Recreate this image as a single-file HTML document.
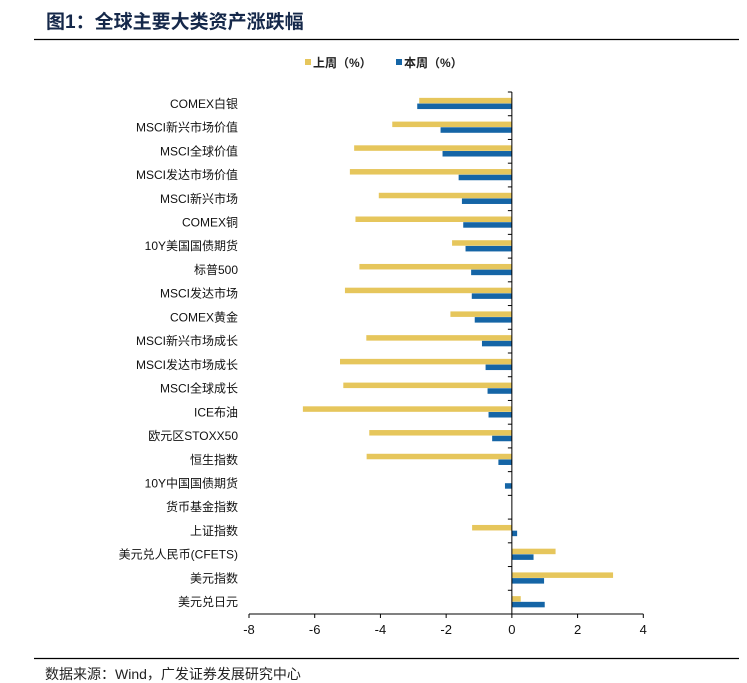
<!DOCTYPE html>
<html><head><meta charset="utf-8"><style>
body{margin:0;background:#fff;width:747px;height:683px;overflow:hidden;font-family:"Liberation Sans","Noto Sans CJK SC",sans-serif;}
svg{display:block}
</style></head><body>
<svg id="chart" width="747" height="683" xmlns="http://www.w3.org/2000/svg" font-family="Liberation Sans, Noto Sans CJK SC, sans-serif">
<text x="46" y="28" font-size="19" font-weight="bold" fill="#15284a">图1：全球主要大类资产涨跌幅</text>
<line x1="34" y1="39.5" x2="739" y2="39.5" stroke="#000" stroke-width="1.3"/>
<g>
<rect x="305" y="59" width="6" height="6" fill="#e6c65c"/>
<text x="313" y="67" font-size="12" font-weight="bold" fill="#222">上周（%）</text>
<rect x="396" y="59" width="6" height="6" fill="#1565a6"/>
<text x="404" y="67" font-size="12" font-weight="bold" fill="#222">本周（%）</text>
</g>
<g id="plot"></g>
<line x1="34" y1="658.5" x2="739" y2="658.5" stroke="#000" stroke-width="1.3"/>
<text x="45" y="679" font-size="14" fill="#222">数据来源：Wind，广发证券发展研究中心</text>
</svg>
<script>
const categories=["COMEX白银","MSCI新兴市场价值","MSCI全球价值","MSCI发达市场价值","MSCI新兴市场","COMEX铜","10Y美国国债期货","标普500","MSCI发达市场","COMEX黄金","MSCI新兴市场成长","MSCI发达市场成长","MSCI全球成长","ICE布油","欧元区STOXX50","恒生指数","10Y中国国债期货","货币基金指数","上证指数","美元兑人民币(CFETS)","美元指数","美元兑日元"];
const lastWeek=[-2.82,-3.64,-4.80,-4.93,-4.05,-4.76,-1.82,-4.64,-5.08,-1.87,-4.43,-5.23,-5.13,-6.36,-4.34,-4.42,0,0,-1.21,1.33,3.08,0.27];
const thisWeek=[-2.88,-2.17,-2.11,-1.62,-1.52,-1.48,-1.41,-1.24,-1.22,-1.13,-0.91,-0.80,-0.74,-0.71,-0.60,-0.41,-0.21,0,0.16,0.66,0.98,1.00];
const xTicks=[-8,-6,-4,-2,0,2,4];
const NS="http://www.w3.org/2000/svg";
const plotG=document.getElementById('plot');
const xMin=-8,xMax=4,plotLeft=249,plotRight=643.3,plotTop=92,plotBottom=614;
function xs(v){return plotLeft+(v-xMin)/(xMax-xMin)*(plotRight-plotLeft);}
const rowH=(plotBottom-plotTop)/categories.length;
function yc(i){return plotTop+rowH*(i+0.5);}
function mk(tag,attrs){const e=document.createElementNS(NS,tag);for(const k in attrs)e.setAttribute(k,attrs[k]);plotG.appendChild(e);return e;}
categories.forEach((c,i)=>{
  const a=lastWeek[i],b=thisWeek[i];
  if(a!==0){const r=mk('rect',{x:Math.min(xs(0),xs(a)),y:yc(i)-6,width:Math.abs(xs(a)-xs(0)),height:5.5,fill:'#e6c65c'});
  
  }
  if(b!==0){const r=mk('rect',{x:Math.min(xs(0),xs(b)),y:yc(i)-0.3,width:Math.abs(xs(b)-xs(0)),height:5.5,fill:'#1565a6'});
  
  }
  const t=mk('text',{x:238,y:yc(i)+4,'font-size':12,'text-anchor':'end',fill:'#111'});
  t.textContent=c;
  
  
});
for(let i=0;i<=categories.length;i++){
  const tk=mk('line',{x1:xs(0)-4,x2:xs(0),y1:plotTop+rowH*i,y2:plotTop+rowH*i,stroke:'#000','stroke-width':1});
  
  
}
const ya=mk('line',{x1:xs(0),x2:xs(0),y1:plotTop,y2:plotBottom,stroke:'#000','stroke-width':1});


const xa=mk('line',{x1:plotLeft,x2:plotRight,y1:plotBottom,y2:plotBottom,stroke:'#000','stroke-width':1});


xTicks.forEach(v=>{
  const l=mk('line',{x1:xs(v),x2:xs(v),y1:plotBottom,y2:plotBottom+4,stroke:'#000','stroke-width':1});
  
  
  const t=mk('text',{x:xs(v),y:plotBottom+20,'font-size':13,'text-anchor':'middle',fill:'#111'});
  t.textContent=v;
  
  
});
</script>
</body></html>
